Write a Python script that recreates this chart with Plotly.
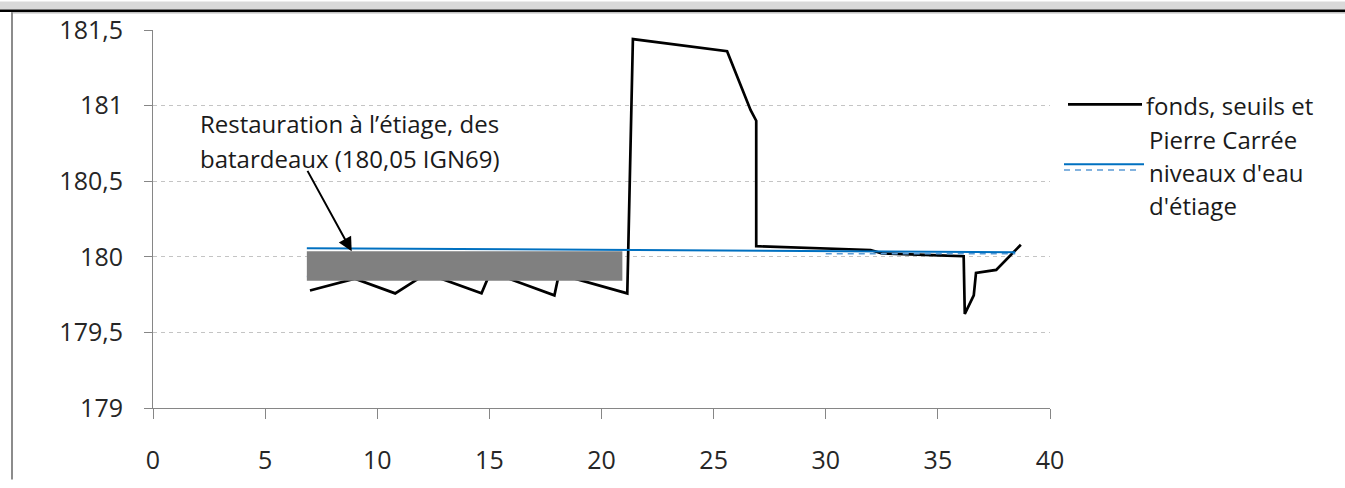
import plotly.graph_objects as go

# Profil en long : fonds, seuils et Pierre Carrée (distance, cote IGN69)
fond_x = [7.0, 9.0, 10.8, 12.2, 14.65, 15.05, 17.9, 18.1, 21.15, 21.4, 25.6, 26.65,
          26.9, 26.9, 32.0, 32.5, 35.05, 36.15, 36.2, 36.6, 36.7, 37.6, 38.7]
fond_y = [179.777, 179.855, 179.758, 179.89, 179.758, 179.9, 179.745, 179.885, 179.758,
          181.44, 181.36, 180.97, 180.9, 180.07, 180.045, 180.023, 180.01, 180.004,
          179.622, 179.745, 179.894, 179.913, 180.08]

# Niveaux d'eau d'étiage
eau_x = [6.86, 22.1, 38.45]
eau_y = [180.057, 180.043, 180.03]
eau2_x = [6.86, 21.05, None, 30.0, 38.45]
eau2_y = [179.87, 179.87, None, 180.02, 180.02]

# Batardeaux restaurés à l'étiage
batardeau_x = [6.86, 20.93]
batardeau_y = [179.842, 180.036]

y_ticks = [179, 179.5, 180, 180.5, 181, 181.5]
y_labels = ["179", "179,5", "180", "180,5", "181", "181,5"]
x_ticks = [0, 5, 10, 15, 20, 25, 30, 35, 40]

W, H = 1345, 488
L, R, T, B = 153, 1050, 29, 415
FONT = "Open Sans"
TXT = "#262626"
FS_TICK = 25
FS_TEXT = 24


def px(x):
    return (x - L) / (R - L)


def py(y):
    return (B - y) / (B - T)


fig = go.Figure()
fig.add_trace(go.Scatter(x=fond_x, y=fond_y, mode="lines",
                         line=dict(color="#000000", width=2.7), showlegend=False))
fig.add_trace(go.Scatter(x=eau2_x, y=eau2_y, mode="lines",
                         line=dict(color="#5b9bd5", width=1.5, dash="6px,5px"),
                         showlegend=False))
bx0, bx1 = batardeau_x
by0, by1 = batardeau_y
fig.add_trace(go.Scatter(x=[bx0, bx1, bx1, bx0, bx0], y=[by0, by0, by1, by1, by0],
                         mode="lines", fill="toself", fillcolor="#808080",
                         line=dict(width=0, color="#808080"), showlegend=False))
fig.add_trace(go.Scatter(x=eau_x, y=eau_y, mode="lines",
                         line=dict(color="#0070c0", width=2), showlegend=False))

shapes = []
# bandeau supérieur et cadre
shapes.append(dict(type="rect", xref="paper", yref="paper", x0=px(0), x1=px(W),
                   y0=py(0), y1=py(8), fillcolor="#d9d9d9", line=dict(width=0), layer="below"))
shapes.append(dict(type="rect", xref="paper", yref="paper", x0=px(0), x1=px(W),
                   y0=py(8), y1=py(10.5), fillcolor="#000000", line=dict(width=0)))
shapes.append(dict(type="line", xref="paper", yref="paper", x0=px(11), x1=px(W),
                   y0=py(11.5), y1=py(11.5), line=dict(color="#a0a0a0", width=1)))
shapes.append(dict(type="line", xref="paper", yref="paper", x0=px(12), x1=px(12),
                   y0=py(11), y1=py(H), line=dict(color="#8c8c8c", width=2)))

# légende
shapes.append(dict(type="line", xref="paper", yref="paper", x0=px(1068), x1=px(1142),
                   y0=py(105), y1=py(105), line=dict(color="#000000", width=2.7)))
shapes.append(dict(type="line", xref="paper", yref="paper", x0=px(1064), x1=px(1144),
                   y0=py(166), y1=py(166), line=dict(color="#0070c0", width=2)))
shapes.append(dict(type="line", xref="paper", yref="paper", x0=px(1064), x1=px(1138),
                   y0=py(172), y1=py(172),
                   line=dict(color="#5b9bd5", width=1.5, dash="6px,5px")))

annotations = []
for txt, x0, y0 in [("fonds, seuils et", 1144, 106), ("Pierre Carrée", 1147, 141),
                    ("niveaux d'eau", 1147, 175), ("d'étiage", 1147, 208),
                    ("Restauration à l’étiage, des", 198, 124),
                    ("batardeaux (180,05 IGN69)", 198, 160)]:
    annotations.append(dict(text=txt, xref="paper", yref="paper", x=px(x0), y=py(y0),
                            xanchor="left", yanchor="middle", showarrow=False,
                            font=dict(family=FONT, size=FS_TEXT, color="#1a1a1a")))

# flèche vers les batardeaux
annotations.append(dict(text="", x=8.86, y=batardeau_y[1], xref="x", yref="y",
                        ax=-45, ay=-82, showarrow=True, arrowhead=2, arrowsize=1.4,
                        arrowwidth=2, arrowcolor="#000000"))

axis_line = "#868686"
fig.update_layout(
    width=W, height=H, autosize=False,
    margin=dict(l=L, r=W - R, t=T, b=H - B, pad=0),
    paper_bgcolor="#ffffff", plot_bgcolor="#ffffff",
    shapes=shapes, annotations=annotations, showlegend=False,
    font=dict(family=FONT, size=FS_TICK, color=TXT),
    xaxis=dict(range=[0, 40], tickvals=x_ticks, ticks="outside", ticklen=10,
               tickcolor=axis_line, tickwidth=1, showline=True, linecolor=axis_line,
               linewidth=1, showgrid=False, zeroline=False, ticklabelstandoff=20,
               tickfont=dict(family=FONT, size=FS_TICK, color=TXT)),
    yaxis=dict(range=[179, 181.5], tickvals=y_ticks, ticktext=y_labels, ticks="outside",
               ticklen=8, tickcolor=axis_line, tickwidth=1, showline=True,
               linecolor=axis_line, linewidth=1, showgrid=True, gridcolor="#c4c4c4",
               griddash="4px,4px", gridwidth=1, zeroline=False, ticklabelstandoff=16,
               tickfont=dict(family=FONT, size=FS_TICK, color=TXT)),
)

fig.write_html("out.html")
